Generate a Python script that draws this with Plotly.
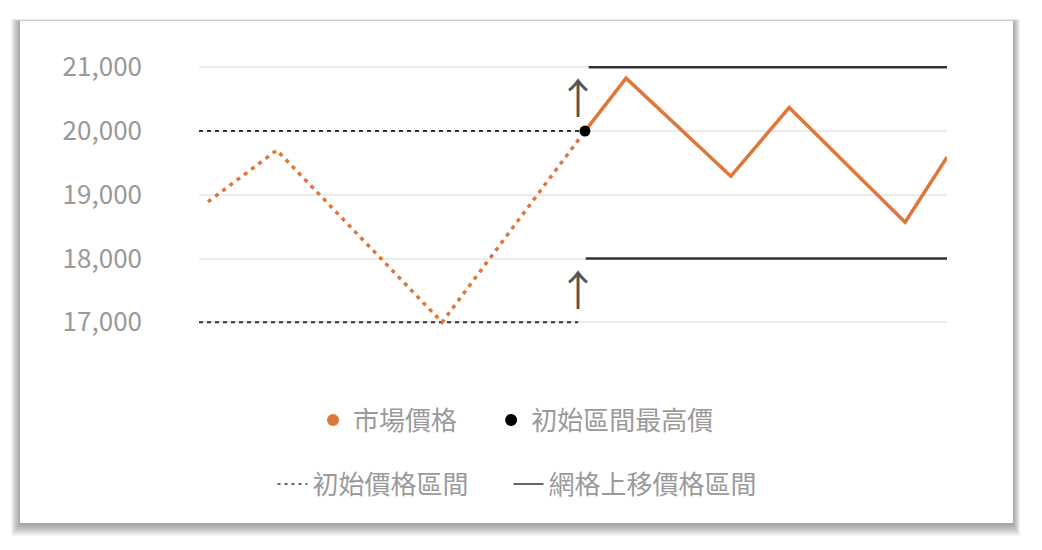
import plotly.graph_objects as go

# market price (x = position along the period, 0..100)
pre_x = [1.2, 10.4, 32.5, 51.6]
pre_y = [18890, 19700, 17000, 20000]
post_x = [51.6, 57.1, 71.1, 78.9, 94.4, 100]
post_y = [20000, 20830, 19290, 20370, 18570, 19590]

# initial grid range (dotted) and shifted-up grid range (solid)
init_top_x, init_top_y = [0, 51.6], [20000, 20000]
init_low_x, init_low_y = [0, 50.7], [17000, 17000]
new_top_x, new_top_y = [52.1, 100], [21000, 21000]
new_low_x, new_low_y = [51.7, 100], [18000, 18000]

peak_x, peak_y = [51.6], [20000]

arrow_x = [50.7, 50.7]
arrow_y = [20560, 17540]

y_ticks = [17000, 18000, 19000, 20000, 21000]

ORANGE = "#E0773A"
DARK = "#333333"
FONT = "Noto Sans CJK TC"
PAD = "\u00a0"

W, H = 1042, 550
L, R, T, B = 199, 95, 61, 215
pw, ph = W - L - R, H - T - B


def xp(px):
    return (px - L) / pw


def yp(py):
    return (H - B - py) / ph


fig = go.Figure()

fig.add_trace(go.Scatter(x=init_top_x, y=init_top_y, mode="lines", showlegend=False,
                         line=dict(color=DARK, width=2, dash="4px,4px")))
fig.add_trace(go.Scatter(x=init_low_x, y=init_low_y, mode="lines", showlegend=False,
                         line=dict(color=DARK, width=2, dash="4px,4px")))
fig.add_trace(go.Scatter(x=new_top_x, y=new_top_y, mode="lines", showlegend=False,
                         line=dict(color=DARK, width=2.5)))
fig.add_trace(go.Scatter(x=new_low_x, y=new_low_y, mode="lines", showlegend=False,
                         line=dict(color=DARK, width=2.5)))
fig.add_trace(go.Scatter(x=pre_x, y=pre_y, mode="lines", showlegend=False,
                         line=dict(color=ORANGE, width=3.5, dash="4px,5px")))
fig.add_trace(go.Scatter(x=post_x, y=post_y, mode="lines", showlegend=False,
                         line=dict(color=ORANGE, width=3.5)))
fig.add_trace(go.Scatter(x=peak_x, y=peak_y, mode="markers", showlegend=False,
                         marker=dict(color="black", size=11)))

# legend entries
fig.add_trace(go.Scatter(x=[None], y=[None], mode="markers", name="市場價格" + PAD * 5,
                         marker=dict(color=ORANGE, size=12), legend="legend"))
fig.add_trace(go.Scatter(x=[None], y=[None], mode="markers", name="初始區間最高價",
                         marker=dict(color="black", size=12), legend="legend"))
fig.add_trace(go.Scatter(x=[None], y=[None], mode="lines", name="初始價格區間" + PAD * 6,
                         line=dict(color=DARK, width=1.5, dash="3px,4px"), legend="legend2"))
fig.add_trace(go.Scatter(x=[None], y=[None], mode="lines", name="網格上移價格區間",
                         line=dict(color=DARK, width=1.5), legend="legend2"))

for ax_, ay_ in zip(arrow_x, arrow_y):
    fig.add_annotation(x=ax_, y=ay_, text="↑", showarrow=False,
                       font=dict(family=FONT, size=42, color="#555555"))

# card with drop shadow
shapes = []
for i in range(1, 11):
    shapes.append(dict(type="rect", xref="paper", yref="paper", layer="below",
                       x0=xp(20 - i * 0.9), x1=xp(1013 + i * 0.7),
                       y0=yp(524 + i * 1.2), y1=yp(22 - i * 0.3),
                       line=dict(width=0), fillcolor="rgba(0,0,0,0.04)"))
shapes.append(dict(type="rect", xref="paper", yref="paper", layer="below",
                   x0=xp(20), x1=xp(1013), y0=yp(523), y1=yp(21),
                   line=dict(width=0), fillcolor="white"))

legend_font = dict(family=FONT, size=26, color="#9a9a9a")

fig.update_layout(
    width=W, height=H,
    margin=dict(l=L, r=R, t=T, b=B),
    paper_bgcolor="white",
    plot_bgcolor="rgba(0,0,0,0)",
    font=dict(family=FONT),
    shapes=shapes,
    showlegend=True,
    legend=dict(orientation="h", x=xp(516), xanchor="center", y=yp(420), yanchor="middle",
                font=legend_font, itemwidth=30, bgcolor="rgba(0,0,0,0)"),
    legend2=dict(orientation="h", x=xp(517), xanchor="center", y=yp(484), yanchor="middle",
                 font=legend_font, itemwidth=30, bgcolor="rgba(0,0,0,0)"),
    xaxis=dict(range=[0, 100], visible=False, showgrid=False, zeroline=False),
    yaxis=dict(range=[16800, 21100], tickvals=y_ticks, tickformat=",",
               showgrid=True, gridcolor="#ebebeb", gridwidth=2, zeroline=False,
               showline=False, ticks="", ticklabelstandoff=56,
               tickfont=dict(family=FONT, size=26, color="#999999")),
)

fig.write_html("out.html", config={"displayModeBar": False},
               post_script="document.body.style.margin='0';")
